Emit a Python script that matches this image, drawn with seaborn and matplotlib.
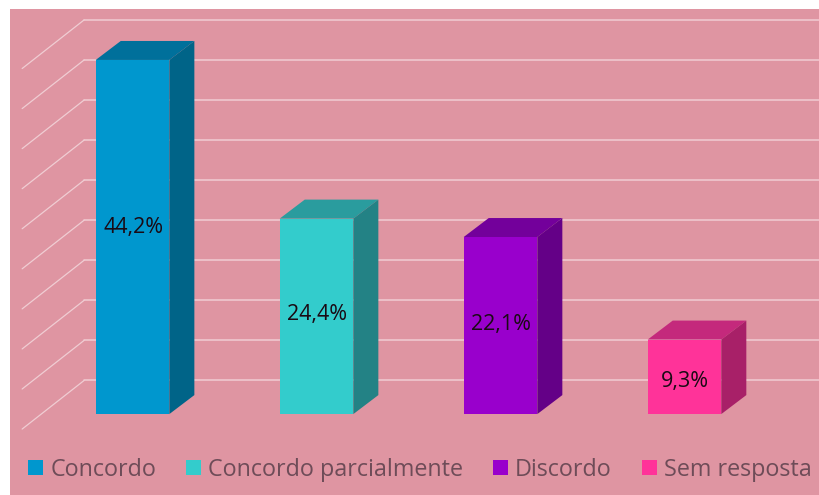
import matplotlib
matplotlib.use("Agg")
import matplotlib.pyplot as plt
from matplotlib.patches import Polygon, Patch
import pandas as pd
import seaborn as sns

categories = ["Concordo", "Concordo parcialmente", "Discordo", "Sem resposta"]
values = [44.2, 24.4, 22.1, 9.3]
value_labels = ["44,2%", "24,4%", "22,1%", "9,3%"]
front_colors = ["#0097CE", "#33CCCC", "#9900CC", "#FF3399"]
top_colors = ["#00709B", "#2A9C9E", "#73009B", "#C4297C"]
side_colors = ["#006488", "#238285", "#640087", "#A82068"]
grid_values = list(range(0, 50, 5))

BACKGROUND = "#DF95A2"
GRID = "#F0CDD3"
TEXT = "#6E4C58"

# 3D extrusion, in data units
BAR_WIDTH = 0.40
DEPTH_X, DEPTH_Y = 0.136, 2.37
WALL_Y = 4.2
WALL_X = -0.263
FLOOR_X, FLOOR_Y = -0.60, -1.87

sns.set_theme(style="white")
plt.rcParams["font.family"] = ["Open Sans", "DejaVu Sans"]

fig = plt.figure(figsize=(8.19, 4.95), dpi=100, facecolor="white")
ax = fig.add_axes([10 / 819, 0, 809 / 819, 486 / 495], facecolor=BACKGROUND)

df = pd.DataFrame({"categoria": categories, "valor": values})
sns.barplot(data=df, x="categoria", y="valor", hue="categoria",
            palette=front_colors, width=BAR_WIDTH, dodge=False,
            saturation=1, legend=False, linewidth=0, ax=ax, zorder=4)

ax.set_xlim(-0.666, 3.731)
ax.set_ylim(-10.1, 50.56)

# Back-wall gridlines with their diagonal run along the side wall
for g in grid_values:
    y = g + WALL_Y
    ax.plot([WALL_X, 3.731], [y, y], color=GRID, lw=1.1, zorder=1)
    ax.plot([FLOOR_X, WALL_X], [g + FLOOR_Y, y], color=GRID, lw=0.9, zorder=1)

# Top and side faces of each bar
for i, v in enumerate(values):
    x0, x1 = i - BAR_WIDTH / 2, i + BAR_WIDTH / 2
    ax.add_patch(Polygon([(x0, v), (x1, v), (x1 + DEPTH_X, v + DEPTH_Y),
                          (x0 + DEPTH_X, v + DEPTH_Y)],
                         closed=True, fc=top_colors[i], ec="none", zorder=3))
    ax.add_patch(Polygon([(x1, 0), (x1 + DEPTH_X, DEPTH_Y),
                          (x1 + DEPTH_X, v + DEPTH_Y), (x1, v)],
                         closed=True, fc=side_colors[i], ec="none", zorder=3))
    ax.text(i + 0.005, 0.55 * v - 1.0, value_labels[i], ha="center", va="center",
            fontsize=15.5, color="#1A0A14", zorder=6)

handles = [Patch(fc=c, ec="none", label=n) for c, n in zip(front_colors, categories)]
ax.legend(handles=handles, loc="center", bbox_to_anchor=(0.5068, 0.0515), ncol=4,
          frameon=False, fontsize=16.8, labelcolor=TEXT, handlelength=0.64,
          handleheight=0.64, handletextpad=0.3, columnspacing=1.29,
          borderpad=0, borderaxespad=0)

ax.set_xlabel("")
ax.set_ylabel("")
ax.set_xticks([])
ax.set_yticks([])
for s in ax.spines.values():
    s.set_visible(False)

fig.savefig("out.png", dpi=100, facecolor="white")
